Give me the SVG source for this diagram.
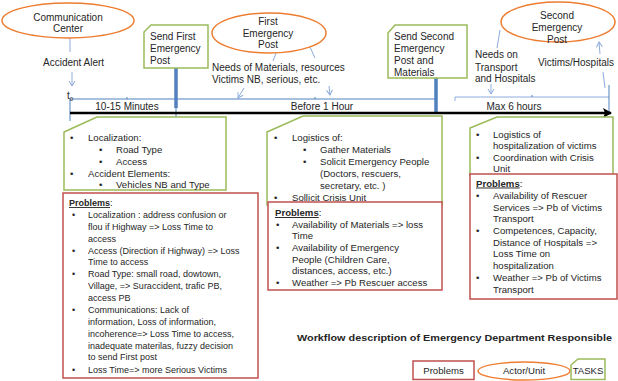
<svg xmlns="http://www.w3.org/2000/svg" width="618" height="381" viewBox="0 0 618 381">
<style>
text{font-family:"Liberation Sans",Arial,sans-serif;font-size:9.6px;fill:#262626}
.top text{font-size:10px}
.p1 text{font-size:9px}
.c{text-anchor:middle}
.b{font-weight:bold}
.green{fill:#fff;stroke:#9BBB59;stroke-width:1.5}
.red{fill:#fff;stroke:#C0504D;stroke-width:1.5}
.orange{fill:#fff;stroke:#ED7D31;stroke-width:1.5}
.thin{stroke:#8EAADB;stroke-width:1;fill:none}
.blue{stroke:#4F81BD;stroke-width:1;fill:none}
.bar{stroke:#4F81BD;stroke-width:3.5;fill:none}
</style>
<defs>
<marker id="oa" markerWidth="8" markerHeight="8" refX="6" refY="4" orient="auto" markerUnits="userSpaceOnUse"><path d="M1,1 L6,4 L1,7" fill="none" stroke="#8EAADB" stroke-width="1"/></marker>
<marker id="ba" markerWidth="10" markerHeight="10" refX="8" refY="5" orient="auto" markerUnits="userSpaceOnUse"><path d="M0,0 L9,5 L0,10 L2,5 Z" fill="#000"/></marker>
</defs>

<g id="connectors">
<line class="thin" x1="70" y1="38" x2="70" y2="52"/>
<line class="thin" x1="72" y1="72" x2="72" y2="86" marker-end="url(#oa)"/>
<line class="thin" x1="276" y1="53" x2="273" y2="61"/>
<line class="thin" x1="310" y1="47" x2="315" y2="58"/>
<line class="thin" x1="244" y1="88" x2="238" y2="98" marker-end="url(#oa)"/>
<line class="thin" x1="329" y1="86" x2="330" y2="95" marker-end="url(#oa)"/>
<line class="thin" x1="500" y1="30" x2="497" y2="48"/>
<line class="thin" x1="491" y1="84" x2="491" y2="94" marker-end="url(#oa)"/>
<line class="thin" x1="600" y1="54" x2="599" y2="42" marker-end="url(#oa)"/>
<line class="thin" x1="603" y1="72" x2="605" y2="88"/>
<line class="blue" x1="70" y1="99" x2="436" y2="99"/>
<line class="thin" x1="455" y1="97" x2="609" y2="97"/>
<line class="thin" x1="455" y1="97" x2="455" y2="101"/>
<line class="blue" x1="127" y1="97" x2="127" y2="99"/>
<line class="blue" x1="315" y1="97" x2="315" y2="99"/>
<line class="blue" x1="532" y1="95" x2="532" y2="97"/>
<line class="blue" x1="70" y1="99" x2="70" y2="121"/>
<line class="blue" x1="176" y1="99" x2="176" y2="117"/>
<line class="blue" x1="609" y1="85" x2="609" y2="113"/>
<line class="bar" x1="176" y1="68" x2="176" y2="108"/>
<line class="bar" x1="436" y1="78" x2="436" y2="113"/>
<line x1="70" y1="113" x2="611" y2="113" stroke="#000" stroke-width="2.5" marker-end="url(#ba)"/>
</g>

<g class="top">
<g id="communication-center">
<ellipse class="orange" cx="68" cy="20.5" rx="66" ry="17.5"/>
<text class="c" x="68" y="20.5">Communication</text>
<text class="c" x="68" y="32">Center</text>
</g>
<g id="accident-alert"><text x="43" y="66">Accident Alert</text></g>
<g id="t0"><text x="67" y="99">t<tspan font-size="6" dy="2">0</tspan></text></g>

<g id="send-first">
<polygon class="green" points="144,32 151,25 208,25 208,68 144,68"/>
<text x="150" y="39.5">Send First</text>
<text x="150" y="51.5">Emergency</text>
<text x="150" y="63.5">Post</text>
</g>

<g id="first-post">
<ellipse class="orange" cx="269" cy="33" rx="57" ry="20"/>
<text class="c" x="268" y="24.5">First</text>
<text class="c" x="268" y="36.5">Emergency</text>
<text class="c" x="268" y="48">Post</text>
</g>
<g id="needs-materials">
<text x="212" y="71">Needs of Materials, resources</text>
<text x="212" y="83">Victims NB, serious, etc.</text>
</g>

<g id="send-second">
<polygon class="green" points="388,33 395,25 467,25 467,78 388,78"/>
<text x="394" y="39.5">Send Second</text>
<text x="394" y="51.5">Emergency</text>
<text x="394" y="63.5">Post and</text>
<text x="394" y="75.5">Materials</text>
</g>

<g id="second-post">
<ellipse class="orange" cx="558" cy="22" rx="57" ry="20"/>
<text class="c" x="557" y="18.5">Second</text>
<text class="c" x="557" y="30.5">Emergency</text>
<text class="c" x="557" y="42.5">Post</text>
</g>
<g id="needs-transport">
<text x="475" y="58">Needs on</text>
<text x="475" y="70.5">Transport</text>
<text x="475" y="82">and Hospitals</text>
</g>
<g id="victims-hospitals"><text x="538" y="66">Victims/Hospitals</text></g>

<g id="timeline-labels">
<text class="c" x="127" y="110">10-15 Minutes</text>
<text class="c" x="322" y="110">Before 1 Hour</text>
<text class="c" x="514" y="110">Max 6 hours</text>
</g>
</g>

<g id="tasks-1">
<polygon class="green" points="64,132 97,117 226,117 226,190 64,190"/>
<text x="70" y="141">•</text><text x="88" y="141">Localization:</text>
<text x="99" y="153">•</text><text x="116" y="153">Road Type</text>
<text x="99" y="165">•</text><text x="116" y="165">Access</text>
<text x="70" y="176.5">•</text><text x="88" y="176.5">Accident Elements:</text>
<text x="99" y="188">•</text><text x="116" y="188">Vehicles NB and Type</text>
</g>

<g id="problems-1" class="p1">
<rect class="red" x="63" y="193" width="195" height="185"/>
<text x="69" y="206"><tspan class="b" text-decoration="underline">Problems</tspan>:</text>
<text x="72" y="218">•</text><text x="88" y="218">Localization : address confusion or</text>
<text x="88" y="230">flou if Highway =&gt; Loss Time to</text>
<text x="88" y="241.5">access</text>
<text x="72" y="253.5">•</text><text x="88" y="253.5">Access (Direction if Highway) =&gt; Loss</text>
<text x="88" y="265">Time to access</text>
<text x="72" y="277">•</text><text x="88" y="277">Road Type: small road, dowtown,</text>
<text x="88" y="289">Village,  =&gt; Suraccident, trafic PB,</text>
<text x="88" y="300.5">access PB</text>
<text x="72" y="312.5">•</text><text x="88" y="312.5">Communications:  Lack of</text>
<text x="88" y="324.5">information, Loss of information,</text>
<text x="88" y="336.5">incoherence=&gt; Loss Time to access,</text>
<text x="88" y="348.5">inadequate materilas, fuzzy decision</text>
<text x="88" y="360">to send First post</text>
<text x="72" y="372.5">•</text><text x="88" y="372.5">Loss Time=&gt; more Serious Victims</text>
</g>

<g id="tasks-2">
<polygon class="green" points="267,132 303,116 442,116 442,205 267,205"/>
<text x="274" y="140.5">•</text><text x="292" y="140.5">Logistics of:</text>
<text x="303" y="152.5">•</text><text x="320" y="152.5">Gather Materials</text>
<text x="303" y="165">•</text><text x="320" y="165">Solicit Emergency People</text>
<text x="320" y="176.5">(Doctors, rescuers,</text>
<text x="320" y="188.5">secretary, etc. )</text>
<text x="274" y="200.5">•</text><text x="292" y="200.5">Sollicit Crisis Unit</text>
</g>

<g id="problems-2">
<rect class="red" x="268" y="202" width="174" height="88"/>
<text x="275" y="216"><tspan class="b" text-decoration="underline">Problems</tspan>:</text>
<text x="276" y="227.5">•</text><text x="292" y="227.5">Availability of Materials =&gt; loss</text>
<text x="292" y="239">Time</text>
<text x="276" y="251">•</text><text x="292" y="251">Availability of Emergency</text>
<text x="292" y="262.5">People (Children Care,</text>
<text x="292" y="274">distances, access, etc.)</text>
<text x="276" y="286">•</text><text x="292" y="286">Weather =&gt; Pb Rescuer access</text>
</g>

<g id="tasks-3">
<polygon class="green" points="470,128 497,117 613,117 613,175 470,175"/>
<text x="476" y="137.5">•</text><text x="493" y="137.5">Logistics of</text>
<text x="493" y="148.5">hospitalization of victims</text>
<text x="476" y="161">•</text><text x="493" y="161">Coordination with Crisis</text>
<text x="493" y="171.5">Unit</text>
</g>

<g id="problems-3">
<rect class="red" x="470" y="174" width="147" height="125"/>
<text x="476" y="186.5"><tspan class="b" text-decoration="underline">Problems</tspan>:</text>
<text x="476" y="198.5">•</text><text x="493" y="198.5">Availability of Rescuer</text>
<text x="493" y="210.5">Services =&gt; Pb of Victims</text>
<text x="493" y="221.5">Transport</text>
<text x="476" y="233.5">•</text><text x="493" y="233.5">Competences, Capacity,</text>
<text x="493" y="245.5">Distance of Hospitals  =&gt;</text>
<text x="493" y="257">Loss Time on</text>
<text x="493" y="268.5">hospitalization</text>
<text x="476" y="280.5">•</text><text x="493" y="280.5">Weather =&gt; Pb of Victims</text>
<text x="493" y="293">Transport</text>
</g>

<g id="title"><text class="b" x="297" y="341" font-size="11" textLength="315" lengthAdjust="spacingAndGlyphs">Workflow description of Emergency Department Responsible</text></g>

<g id="legend">
<rect class="red" x="413" y="361" width="61" height="18.5"/>
<text class="c" x="443.5" y="374">Problems</text>
<ellipse class="orange" cx="524" cy="371" rx="46" ry="9"/>
<text class="c" x="524" y="374">Actor/Unit</text>
<polygon class="green" points="571,365 578,359 605,359 605,379.5 571,379.5"/>
<text class="c" x="588" y="374" font-size="8.5">TASKS</text>
</g>
</svg>
